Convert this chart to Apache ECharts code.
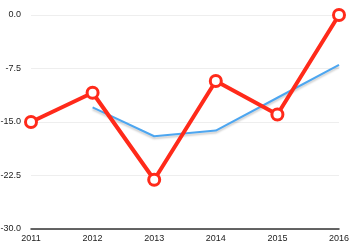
<!DOCTYPE html>
<html><head><meta charset="utf-8">
<script src="https://cdn.jsdelivr.net/npm/echarts@6/dist/echarts.min.js"></script>
<style>html,body{margin:0;padding:0;background:#fff}#c{width:360px;height:247px}</style>
</head><body><div id="c"></div>
<script>
var categories = ['2011','2012','2013','2014','2015','2016'];
var values = [-15.0, -10.9, -23.1, -9.25, -13.95, 0.0];
var average = [null, -12.95, -17.0, -16.2, -11.6, -7.0];
var chart = echarts.init(document.getElementById('c'), null, {renderer:'canvas'});
chart.setOption({
  animation:false,
  grid:{left:31, right:21, top:15, bottom:18, containLabel:false, outerBoundsMode:'none'},
  xAxis:{type:'category', data:categories, boundaryGap:false,
    axisLine:{onZero:false, lineStyle:{color:'#333', width:1.5}},
    axisTick:{show:false},
    axisLabel:{color:'#222', fontSize:9, fontFamily:'Liberation Sans, Arial', margin:5}},
  yAxis:{type:'value', min:-30, max:0, interval:7.5,
    axisLine:{show:false}, axisTick:{show:false},
    axisLabel:{color:'#222', fontSize:9, fontFamily:'Liberation Sans, Arial', margin:10,
      formatter:function(v){return v.toFixed(1);}},
    splitLine:{lineStyle:{color:'#eeeeee', width:1}}},
  series:[
    {type:'line', data:average, connectNulls:false, symbol:'none',
      lineStyle:{color:'#4da6f0', width:2, shadowColor:'rgba(0,0,0,0.2)', shadowBlur:2, shadowOffsetY:2}, z:2},
    {type:'line', data:values, symbol:'circle', symbolSize:11,
      lineStyle:{color:'#ff2a1a', width:4},
      itemStyle:{color:'#ffffff', borderColor:'#ff2a1a', borderWidth:3}, z:3}
  ]
});
</script></body></html>
